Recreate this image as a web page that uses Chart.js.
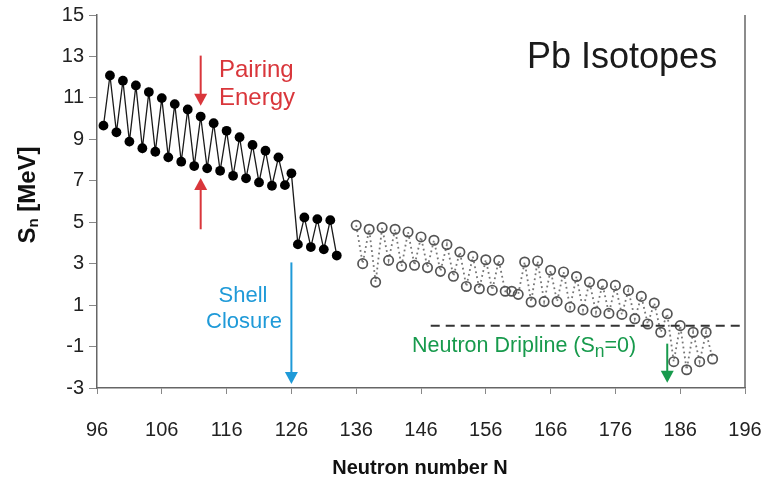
<!DOCTYPE html>
<html>
<head>
<meta charset="utf-8">
<script src="https://cdn.jsdelivr.net/npm/chart.js@4.4.0/dist/chart.umd.min.js"></script>
<style>
  html, body { margin: 0; padding: 0; background: #fff; }
  canvas { display: block; }
</style>
</head>
<body>
<canvas id="snChart" width="768" height="482"></canvas>
<script>
// Measured neutron separation energies (N = 97..133)
var boundN = [97, 98, 99, 100, 101, 102, 103, 104, 105, 106, 107, 108, 109, 110, 111, 112, 113, 114, 115,
  116, 117, 118, 119, 120, 121, 122, 123, 124, 125, 126, 127, 128, 129, 130, 131, 132, 133];
var boundSn = [9.66, 12.08, 9.34, 11.83, 8.89, 11.60, 8.57, 11.28, 8.40, 10.99, 8.13, 10.70, 7.92, 10.44, 7.71,
  10.10, 7.60, 9.78, 7.48, 9.41, 7.24, 9.10, 7.12, 8.73, 6.92, 8.45, 6.76, 8.13, 6.79, 7.36, 3.93, 5.23, 3.80,
  5.15, 3.69, 5.10, 3.39];

// Model predictions (N = 136..191)
var predN = [136, 137, 138, 139, 140, 141, 142, 143, 144, 145, 146, 147, 148, 149, 150, 151, 152, 153, 154,
  155, 156, 157, 158, 159, 160, 161, 162, 163, 164, 165, 166, 167, 168, 169, 170, 171, 172, 173, 174, 175,
  176, 177, 178, 179, 180, 181, 182, 183, 184, 185, 186, 187, 188, 189, 190, 191];
var predSn = [4.85, 3.00, 4.66, 2.11, 4.74, 3.16, 4.66, 2.87, 4.53, 2.92, 4.29, 2.81, 4.13, 2.63, 3.92, 2.39,
  3.56, 1.90, 3.35, 1.79, 3.19, 1.72, 3.16, 1.67, 1.67, 1.52, 3.08, 1.15, 3.13, 1.17, 2.68, 1.17, 2.60, 0.90,
  2.38, 0.77, 2.11, 0.66, 2.00, 0.60, 1.95, 0.55, 1.71, 0.34, 1.42, 0.09, 1.10, -0.31, 0.58, -1.73, 0.01,
  -2.12, -0.31, -1.73, -0.31, -1.60];

var xTicks = [96, 106, 116, 126, 136, 146, 156, 166, 176, 186, 196];
var yTicks = [-3, -1, 1, 3, 5, 7, 9, 11, 13, 15];

var dripline = { from: 147.5, to: 196, sn: 0 };

var FONT = '"Liberation Sans", Arial, sans-serif';

function toPoints(xs, ys) {
  return xs.map(function (x, i) { return { x: x, y: ys[i] }; });
}

function arrow(ctx, x, y0, y1, color) {
  // vertical arrow from y0 to tip at y1
  var dir = y1 > y0 ? 1 : -1;
  ctx.strokeStyle = color;
  ctx.fillStyle = color;
  ctx.lineWidth = 2;
  ctx.beginPath();
  ctx.moveTo(x, y0);
  ctx.lineTo(x, y1 - dir * 10);
  ctx.stroke();
  ctx.beginPath();
  ctx.moveTo(x, y1);
  ctx.lineTo(x - 6.5, y1 - dir * 12);
  ctx.lineTo(x + 6.5, y1 - dir * 12);
  ctx.closePath();
  ctx.fill();
}

var annotations = {
  id: 'annotations',
  afterDraw: function (chart) {
    var ctx = chart.ctx;
    var xs = chart.scales.x, ys = chart.scales.y;
    var area = chart.chartArea;
    ctx.save();

    // right frame line
    ctx.strokeStyle = '#666';
    ctx.lineWidth = 1.5;
    ctx.beginPath();
    ctx.moveTo(area.right, area.top);
    ctx.lineTo(area.right, area.bottom);
    ctx.stroke();

    // neutron dripline
    ctx.strokeStyle = '#333';
    ctx.lineWidth = 2;
    ctx.setLineDash([9, 6]);
    ctx.beginPath();
    ctx.moveTo(xs.getPixelForValue(dripline.from), ys.getPixelForValue(dripline.sn));
    ctx.lineTo(xs.getPixelForValue(dripline.to), ys.getPixelForValue(dripline.sn));
    ctx.stroke();
    ctx.setLineDash([]);

    var red = '#d9363b', blue = '#1f9ad8', green = '#179a4c';

    // pairing energy arrows
    arrow(ctx, xs.getPixelForValue(112), ys.getPixelForValue(13.04), ys.getPixelForValue(10.62), red);
    arrow(ctx, xs.getPixelForValue(112), ys.getPixelForValue(4.66), ys.getPixelForValue(7.13), red);
    // shell closure arrow
    arrow(ctx, xs.getPixelForValue(126), ys.getPixelForValue(3.06), ys.getPixelForValue(-2.81), blue);
    // dripline arrow
    arrow(ctx, xs.getPixelForValue(184), ys.getPixelForValue(-0.86), ys.getPixelForValue(-2.75), green);

    ctx.textBaseline = 'middle';

    ctx.fillStyle = red;
    ctx.font = '24px ' + FONT;
    ctx.textAlign = 'left';
    ctx.fillText('Pairing', 219, 70);
    ctx.fillText('Energy', 219, 98);

    ctx.fillStyle = blue;
    ctx.font = '22px ' + FONT;
    ctx.textAlign = 'center';
    ctx.fillText('Shell', 243, 296);
    ctx.fillText('Closure', 244, 322);

    // "Neutron Dripline (Sn=0)" with subscript n
    ctx.fillStyle = green;
    ctx.textAlign = 'left';
    ctx.font = '21.5px ' + FONT;
    var tx = 412, ty = 346;
    var part1 = 'Neutron Dripline (S';
    ctx.fillText(part1, tx, ty);
    tx += ctx.measureText(part1).width;
    ctx.font = '17.5px ' + FONT;
    ctx.fillText('n', tx, ty + 6);
    tx += ctx.measureText('n').width;
    ctx.font = '21.5px ' + FONT;
    ctx.fillText('=0)', tx, ty);

    ctx.fillStyle = '#1a1a1a';
    ctx.font = '36px ' + FONT;
    ctx.textAlign = 'left';
    ctx.textBaseline = 'alphabetic';
    ctx.fillText('Pb Isotopes', 527, 68);

    // axis titles
    ctx.fillStyle = '#111';
    ctx.font = 'bold 20px ' + FONT;
    ctx.textAlign = 'center';
    ctx.textBaseline = 'middle';
    ctx.fillText('Neutron number N', 420, 468);

    ctx.translate(28, 195);
    ctx.rotate(-Math.PI / 2);
    ctx.textAlign = 'left';
    ctx.font = 'bold 24px ' + FONT;
    var wS = ctx.measureText('S').width;
    var wRest = ctx.measureText(' [MeV]').width;
    ctx.font = 'bold 15px ' + FONT;
    var wn = ctx.measureText('n').width;
    var sx = -(wS + wn + wRest) / 2;
    ctx.font = 'bold 24px ' + FONT;
    ctx.fillText('S', sx, 0);
    ctx.font = 'bold 15px ' + FONT;
    ctx.fillText('n', sx + wS, 6);
    ctx.font = 'bold 24px ' + FONT;
    ctx.fillText(' [MeV]', sx + wS + wn, 0);

    ctx.restore();
  }
};

new Chart(document.getElementById('snChart'), {
  type: 'scatter',
  data: {
    datasets: [{
      label: 'Measured',
      data: toPoints(boundN, boundSn),
      showLine: true,
      borderColor: '#1a1a1a',
      borderWidth: 1.3,
      pointRadius: 4.9,
      pointBackgroundColor: '#000',
      pointBorderColor: '#000',
      pointBorderWidth: 0
    }, {
      label: 'Predicted',
      data: toPoints(predN, predSn),
      showLine: true,
      borderColor: '#777',
      borderWidth: 1.8,
      borderDash: [1.8, 3.2],
      pointRadius: 4.7,
      pointBackgroundColor: 'rgba(255,255,255,0)',
      pointBorderColor: '#555',
      pointBorderWidth: 1.7
    }]
  },
  options: {
    responsive: false,
    animation: false,
    layout: { padding: { top: 15, right: 23, left: 0, bottom: 0 } },
    plugins: { legend: { display: false }, tooltip: { enabled: false } },
    scales: {
      x: {
        type: 'linear',
        min: 96,
        max: 196,
        afterFit: function (scale) {
          scale.height = 94;
          scale.paddingLeft = 0;
          scale.paddingRight = 0;
        },
        afterBuildTicks: function (scale) { scale.ticks = xTicks.map(function (v) { return { value: v }; }); },
        grid: { drawOnChartArea: false, tickLength: 6, color: '#888', lineWidth: 1 },
        border: { color: '#666', width: 1.5 },
        ticks: { color: '#222', padding: 24, font: { family: FONT, size: 20 } }
      },
      y: {
        min: -3,
        max: 15,
        afterFit: function (scale) {
          scale.width = 97;
          scale.paddingTop = 0;
          scale.paddingBottom = 0;
        },
        afterBuildTicks: function (scale) { scale.ticks = yTicks.map(function (v) { return { value: v }; }); },
        grid: { drawOnChartArea: false, tickLength: 8, color: '#888', lineWidth: 1 },
        border: { color: '#666', width: 1.5 },
        ticks: { color: '#222', padding: 5, font: { family: FONT, size: 20 } }
      }
    }
  },
  plugins: [annotations]
});
</script>
</body>
</html>
